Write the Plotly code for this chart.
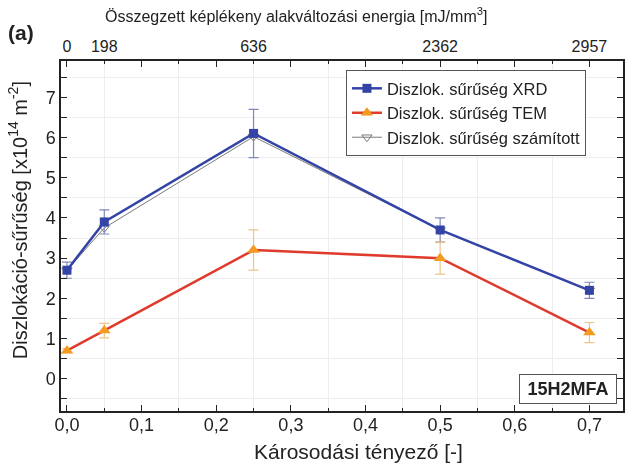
import plotly.graph_objects as go

# ---- data ----
damage = [0.0, 0.05, 0.25, 0.5, 0.7]
energy_labels = ["0", "198", "636", "2362", "2957"]
xrd = [2.7, 3.9, 6.1, 3.7, 2.2]
xrd_err = [0.2, 0.3, 0.6, 0.3, 0.2]
tem = [0.7, 1.2, 3.2, 3.0, 1.15]
tem_err = [0.05, 0.18, 0.5, 0.4, 0.25]
calc = [2.7, 3.75, 6.02, 3.7, 2.2]

FONT = "Liberation Sans, Arial, sans-serif"
BLUE = "#3444a6"
RED = "#e03a2c"
ORANGE = "#f39a1f"
GRAY = "#7a7a7a"

fig = go.Figure()

fig.add_trace(go.Scatter(
    x=damage, y=calc, name="Diszlok. sűrűség számított", mode="lines+markers",
    legendrank=3,
    line=dict(color=GRAY, width=1),
    marker=dict(symbol="triangle-down-open", size=9, color=GRAY, line=dict(width=1)),
))
fig.add_trace(go.Scatter(
    x=damage, y=xrd, name="Diszlok. sűrűség XRD", mode="lines+markers",
    legendrank=1,
    line=dict(color=BLUE, width=2.5),
    marker=dict(symbol="square", size=9, color=BLUE),
    error_y=dict(type="data", array=xrd_err, color="#8088b8", thickness=1.2, width=5),
))
fig.add_trace(go.Scatter(
    x=damage, y=tem, name="Diszlok. sűrűség TEM", mode="lines+markers",
    legendrank=2,
    line=dict(color=RED, width=2.5),
    marker=dict(symbol="triangle-up", size=11, color=ORANGE),
    error_y=dict(type="data", array=tem_err, color="#eec48a", thickness=1.2, width=5),
))
# carrier for the top axis
fig.add_trace(go.Scatter(
    x=damage, y=xrd, xaxis="x2", mode="markers", opacity=0,
    showlegend=False, hoverinfo="skip",
))

XR = [-0.008, 0.745]
fig.update_layout(
    width=626, height=467,
    margin=dict(l=61, r=1, t=61, b=56),
    plot_bgcolor="white", paper_bgcolor="white",
    separators=", ",
    font=dict(family=FONT, size=18, color="#222"),
    showlegend=True,
    legend=dict(
        x=0.507, y=0.974, xanchor="left", yanchor="top",
        bordercolor="#555", borderwidth=1, bgcolor="white",
        font=dict(size=16.5, family=FONT, color="#222"),
        traceorder="normal", tracegroupgap=0,
    ),
    xaxis=dict(
        range=XR, dtick=0.1, tick0=0, tickformat=".1f",
        showline=True, linecolor="#222", linewidth=1.5, mirror="allticks",
        ticks="inside", ticklen=6, tickcolor="#222", tickwidth=1.2,
        showgrid=False, zeroline=False,
        minor=dict(dtick=0.05, ticks="inside", ticklen=3, tickcolor="#222",
                   showgrid=True, gridcolor="#eeeeee", gridwidth=1),
        tickfont=dict(size=18), ticklabelstandoff=-3,
    ),
    xaxis2=dict(
        overlaying="x", side="top", range=XR,
        tickmode="array", tickvals=damage, ticktext=energy_labels,
        ticks="", showline=False, showgrid=False, zeroline=False,
        tickfont=dict(size=16), ticklabelstandoff=5,
    ),
    yaxis=dict(
        range=[-0.8, 7.9], dtick=1, tick0=0,
        showline=True, linecolor="#222", linewidth=1.5, mirror="allticks",
        ticks="inside", ticklen=6, tickcolor="#222", tickwidth=1.2,
        showgrid=False, zeroline=False,
        minor=dict(dtick=0.5, ticks="inside", ticklen=3, tickcolor="#222",
                   showgrid=True, gridcolor="#eeeeee", gridwidth=1),
        tickfont=dict(size=18),
    ),
    annotations=[
        dict(text="Diszlokáció-sűrűség [x10<sup>14</sup> m<sup>-2</sup>]",
             xref="paper", yref="paper", x=-0.076, y=0.546, textangle=-90,
             xanchor="center", yanchor="middle",
             showarrow=False, font=dict(size=20)),
        dict(text="Károsodási tényező [-]",
             xref="paper", yref="paper", x=0.53, y=-0.117,
             xanchor="center", yanchor="middle",
             showarrow=False, font=dict(size=21)),
        dict(text="Összegzett képlékeny alakváltozási energia [mJ/mm<sup>3</sup>]",
             xref="paper", yref="paper", x=0.418, y=1.131, showarrow=False,
             xanchor="center", yanchor="middle",
             font=dict(size=16)),
        dict(text="<b>(a)</b>", xref="paper", yref="paper", x=-0.072, y=1.08,
             xanchor="center", yanchor="middle",
             showarrow=False, font=dict(size=21)),
        dict(text="<b>15H2MFA</b>", xref="paper", yref="paper", x=0.903, y=0.064,
             xanchor="center", yanchor="middle",
             showarrow=False, font=dict(size=18), width=88, height=20,
             borderpad=4, bordercolor="#555", borderwidth=1, bgcolor="white"),
    ],
)

fig.write_html("out.html")
